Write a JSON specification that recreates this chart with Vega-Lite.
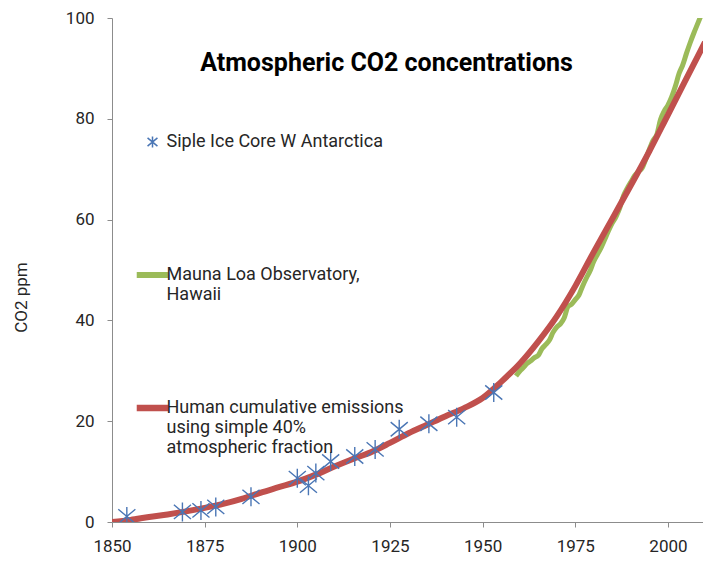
{
  "$schema": "https://vega.github.io/schema/vega-lite/v6.json",
  "width": 593,
  "height": 504,
  "autosize": {"type": "none"},
  "padding": {"left": 112, "top": 18, "right": 0, "bottom": 40},
  "background": "white",
  "title": {
    "text": "Atmospheric CO2 concentrations",
    "font": "Roboto",
    "fontSize": 25,
    "fontWeight": "bold",
    "color": "#000000",
    "anchor": "middle",
    "frame": "group",
    "baseline": "alphabetic",
    "offset": 0,
    "dx": -22,
    "dy": 87
  },
  "data": {
    "values": [
      {"series": "Siple Ice Core W Antarctica", "year": 1854, "value": 1.1},
      {"series": "Siple Ice Core W Antarctica", "year": 1869, "value": 2.0},
      {"series": "Siple Ice Core W Antarctica", "year": 1874, "value": 2.3},
      {"series": "Siple Ice Core W Antarctica", "year": 1878, "value": 3.0},
      {"series": "Siple Ice Core W Antarctica", "year": 1887.5, "value": 5.0},
      {"series": "Siple Ice Core W Antarctica", "year": 1900, "value": 8.7},
      {"series": "Siple Ice Core W Antarctica", "year": 1903, "value": 7.2},
      {"series": "Siple Ice Core W Antarctica", "year": 1905, "value": 9.7},
      {"series": "Siple Ice Core W Antarctica", "year": 1909, "value": 12.0},
      {"series": "Siple Ice Core W Antarctica", "year": 1915.5, "value": 13.0},
      {"series": "Siple Ice Core W Antarctica", "year": 1921, "value": 14.4},
      {"series": "Siple Ice Core W Antarctica", "year": 1927.5, "value": 18.4},
      {"series": "Siple Ice Core W Antarctica", "year": 1935.5, "value": 19.5},
      {"series": "Siple Ice Core W Antarctica", "year": 1943, "value": 20.8},
      {"series": "Siple Ice Core W Antarctica", "year": 1953, "value": 25.7},
      {"series": "Mauna Loa Observatory, Hawaii", "year": 1959, "value": 28.98},
      {"series": "Mauna Loa Observatory, Hawaii", "year": 1960, "value": 29.91},
      {"series": "Mauna Loa Observatory, Hawaii", "year": 1961, "value": 30.64},
      {"series": "Mauna Loa Observatory, Hawaii", "year": 1962, "value": 31.45},
      {"series": "Mauna Loa Observatory, Hawaii", "year": 1963, "value": 31.99},
      {"series": "Mauna Loa Observatory, Hawaii", "year": 1964, "value": 32.62},
      {"series": "Mauna Loa Observatory, Hawaii", "year": 1965, "value": 33.04},
      {"series": "Mauna Loa Observatory, Hawaii", "year": 1966, "value": 34.37},
      {"series": "Mauna Loa Observatory, Hawaii", "year": 1967, "value": 35.18},
      {"series": "Mauna Loa Observatory, Hawaii", "year": 1968, "value": 36.05},
      {"series": "Mauna Loa Observatory, Hawaii", "year": 1969, "value": 37.62},
      {"series": "Mauna Loa Observatory, Hawaii", "year": 1970, "value": 38.68},
      {"series": "Mauna Loa Observatory, Hawaii", "year": 1971, "value": 39.32},
      {"series": "Mauna Loa Observatory, Hawaii", "year": 1972, "value": 40.46},
      {"series": "Mauna Loa Observatory, Hawaii", "year": 1973, "value": 42.68},
      {"series": "Mauna Loa Observatory, Hawaii", "year": 1974, "value": 43.19},
      {"series": "Mauna Loa Observatory, Hawaii", "year": 1975, "value": 44.12},
      {"series": "Mauna Loa Observatory, Hawaii", "year": 1976, "value": 45.03},
      {"series": "Mauna Loa Observatory, Hawaii", "year": 1977, "value": 46.84},
      {"series": "Mauna Loa Observatory, Hawaii", "year": 1978, "value": 48.41},
      {"series": "Mauna Loa Observatory, Hawaii", "year": 1979, "value": 49.84},
      {"series": "Mauna Loa Observatory, Hawaii", "year": 1980, "value": 51.76},
      {"series": "Mauna Loa Observatory, Hawaii", "year": 1981, "value": 53.12},
      {"series": "Mauna Loa Observatory, Hawaii", "year": 1982, "value": 54.48},
      {"series": "Mauna Loa Observatory, Hawaii", "year": 1983, "value": 56.15},
      {"series": "Mauna Loa Observatory, Hawaii", "year": 1984, "value": 57.85},
      {"series": "Mauna Loa Observatory, Hawaii", "year": 1985, "value": 59.35},
      {"series": "Mauna Loa Observatory, Hawaii", "year": 1986, "value": 60.61},
      {"series": "Mauna Loa Observatory, Hawaii", "year": 1987, "value": 62.31},
      {"series": "Mauna Loa Observatory, Hawaii", "year": 1988, "value": 64.69},
      {"series": "Mauna Loa Observatory, Hawaii", "year": 1989, "value": 66.20},
      {"series": "Mauna Loa Observatory, Hawaii", "year": 1990, "value": 67.45},
      {"series": "Mauna Loa Observatory, Hawaii", "year": 1991, "value": 68.70},
      {"series": "Mauna Loa Observatory, Hawaii", "year": 1992, "value": 69.54},
      {"series": "Mauna Loa Observatory, Hawaii", "year": 1993, "value": 70.21},
      {"series": "Mauna Loa Observatory, Hawaii", "year": 1994, "value": 71.96},
      {"series": "Mauna Loa Observatory, Hawaii", "year": 1995, "value": 73.97},
      {"series": "Mauna Loa Observatory, Hawaii", "year": 1996, "value": 75.74},
      {"series": "Mauna Loa Observatory, Hawaii", "year": 1997, "value": 76.88},
      {"series": "Mauna Loa Observatory, Hawaii", "year": 1998, "value": 79.84},
      {"series": "Mauna Loa Observatory, Hawaii", "year": 1999, "value": 81.54},
      {"series": "Mauna Loa Observatory, Hawaii", "year": 2000, "value": 82.71},
      {"series": "Mauna Loa Observatory, Hawaii", "year": 2001, "value": 84.32},
      {"series": "Mauna Loa Observatory, Hawaii", "year": 2002, "value": 86.45},
      {"series": "Mauna Loa Observatory, Hawaii", "year": 2003, "value": 88.98},
      {"series": "Mauna Loa Observatory, Hawaii", "year": 2004, "value": 90.70},
      {"series": "Mauna Loa Observatory, Hawaii", "year": 2005, "value": 92.98},
      {"series": "Mauna Loa Observatory, Hawaii", "year": 2006, "value": 95.09},
      {"series": "Mauna Loa Observatory, Hawaii", "year": 2007, "value": 97.02},
      {"series": "Mauna Loa Observatory, Hawaii", "year": 2008, "value": 98.83},
      {"series": "Mauna Loa Observatory, Hawaii", "year": 2009, "value": 100.64},
      {"series": "Human cumulative emissions using simple 40% atmospheric fraction", "year": 1850, "value": 0},
      {"series": "Human cumulative emissions using simple 40% atmospheric fraction", "year": 1855, "value": 0.4},
      {"series": "Human cumulative emissions using simple 40% atmospheric fraction", "year": 1860, "value": 1.0},
      {"series": "Human cumulative emissions using simple 40% atmospheric fraction", "year": 1865, "value": 1.5},
      {"series": "Human cumulative emissions using simple 40% atmospheric fraction", "year": 1870, "value": 2.1},
      {"series": "Human cumulative emissions using simple 40% atmospheric fraction", "year": 1875, "value": 2.8},
      {"series": "Human cumulative emissions using simple 40% atmospheric fraction", "year": 1880, "value": 3.6},
      {"series": "Human cumulative emissions using simple 40% atmospheric fraction", "year": 1885, "value": 4.6},
      {"series": "Human cumulative emissions using simple 40% atmospheric fraction", "year": 1890, "value": 5.8},
      {"series": "Human cumulative emissions using simple 40% atmospheric fraction", "year": 1895, "value": 6.9},
      {"series": "Human cumulative emissions using simple 40% atmospheric fraction", "year": 1900, "value": 8.0},
      {"series": "Human cumulative emissions using simple 40% atmospheric fraction", "year": 1905, "value": 9.4},
      {"series": "Human cumulative emissions using simple 40% atmospheric fraction", "year": 1910, "value": 11.0},
      {"series": "Human cumulative emissions using simple 40% atmospheric fraction", "year": 1915, "value": 12.5},
      {"series": "Human cumulative emissions using simple 40% atmospheric fraction", "year": 1920, "value": 13.9},
      {"series": "Human cumulative emissions using simple 40% atmospheric fraction", "year": 1925, "value": 15.7},
      {"series": "Human cumulative emissions using simple 40% atmospheric fraction", "year": 1930, "value": 17.6},
      {"series": "Human cumulative emissions using simple 40% atmospheric fraction", "year": 1935, "value": 19.3},
      {"series": "Human cumulative emissions using simple 40% atmospheric fraction", "year": 1940, "value": 21.0},
      {"series": "Human cumulative emissions using simple 40% atmospheric fraction", "year": 1945, "value": 22.6},
      {"series": "Human cumulative emissions using simple 40% atmospheric fraction", "year": 1950, "value": 24.6},
      {"series": "Human cumulative emissions using simple 40% atmospheric fraction", "year": 1955, "value": 27.8},
      {"series": "Human cumulative emissions using simple 40% atmospheric fraction", "year": 1960, "value": 31.4},
      {"series": "Human cumulative emissions using simple 40% atmospheric fraction", "year": 1965, "value": 35.8},
      {"series": "Human cumulative emissions using simple 40% atmospheric fraction", "year": 1970, "value": 40.8},
      {"series": "Human cumulative emissions using simple 40% atmospheric fraction", "year": 1975, "value": 46.8},
      {"series": "Human cumulative emissions using simple 40% atmospheric fraction", "year": 1980, "value": 53.6},
      {"series": "Human cumulative emissions using simple 40% atmospheric fraction", "year": 1985, "value": 60.2},
      {"series": "Human cumulative emissions using simple 40% atmospheric fraction", "year": 1990, "value": 66.8},
      {"series": "Human cumulative emissions using simple 40% atmospheric fraction", "year": 1995, "value": 73.6},
      {"series": "Human cumulative emissions using simple 40% atmospheric fraction", "year": 2000, "value": 80.8},
      {"series": "Human cumulative emissions using simple 40% atmospheric fraction", "year": 2005, "value": 88.0},
      {"series": "Human cumulative emissions using simple 40% atmospheric fraction", "year": 2010, "value": 95.2}
    ]
  },
  "encoding": {
    "x": {
      "field": "year",
      "type": "quantitative",
      "scale": {"domain": [1850, 2010], "nice": false, "zero": false},
      "axis": {
        "title": null,
        "values": [1850, 1875, 1900, 1925, 1950, 1975, 2000],
        "format": "d",
        "grid": false,
        "domainColor": "#8c8c8c",
        "tickColor": "#8c8c8c",
        "tickSize": 5,
        "labelFont": "Roboto",
        "labelFontSize": 17,
        "labelColor": "#262626",
        "labelPadding": 11,
        "labelFlush": false,
        "labelOverlap": false
      }
    },
    "y": {
      "field": "value",
      "type": "quantitative",
      "scale": {"domain": [0, 100], "nice": false},
      "axis": {
        "title": "CO2 ppm",
        "values": [0, 20, 40, 60, 80, 100],
        "grid": false,
        "domainColor": "#8c8c8c",
        "tickColor": "#8c8c8c",
        "tickSize": 5,
        "labelFont": "Roboto",
        "labelFontSize": 17,
        "labelColor": "#262626",
        "labelPadding": 13,
        "titleFont": "Roboto",
        "titleFontSize": 17,
        "titleFontWeight": "normal",
        "titleColor": "#262626",
        "titleAngle": -90,
        "titleAlign": "center",
        "titleBaseline": "middle",
        "titleX": -91,
        "titleY": 279
      }
    },
    "color": {
      "field": "series",
      "type": "nominal",
      "scale": {
        "domain": ["Siple Ice Core W Antarctica", "Mauna Loa Observatory, Hawaii", "Human cumulative emissions using simple 40% atmospheric fraction"],
        "range": ["#4A76B5", "#9BBB59", "#C0504D"]
      },
      "legend": {
        "title": null,
        "orient": "none",
        "legendX": 31.5,
        "legendY": 115,
        "padding": 0,
        "direction": "vertical",
        "symbolSize": 121,
        "symbolStrokeWidth": 1.5,
        "labelOffset": 5,
        "labelFont": "Roboto",
        "labelFontSize": 18,
        "labelColor": "#262626",
        "labelLimit": 400,
        "labelBaseline": "middle",
        "rowPadding": 75,
        "labelExpr": "datum.label == 'Siple Ice Core W Antarctica' ? ['Siple Ice Core W Antarctica', '', ''] : datum.label == 'Mauna Loa Observatory, Hawaii' ? ['Mauna Loa Observatory,', 'Hawaii', ''] : ['Human cumulative emissions', 'using simple 40%', 'atmospheric fraction']"
      }
    }
  },
  "layer": [
    {
      "transform": [{"filter": "datum.series === 'Mauna Loa Observatory, Hawaii'"}],
      "mark": {"type": "line", "strokeWidth": 5, "clip": true, "interpolate": "monotone"}
    },
    {
      "transform": [{"filter": "datum.series === 'Human cumulative emissions using simple 40% atmospheric fraction'"}],
      "mark": {"type": "line", "strokeWidth": 6, "clip": true, "interpolate": "monotone"}
    },
    {
      "transform": [{"filter": "datum.series === 'Siple Ice Core W Antarctica'"}],
      "mark": {
        "type": "point",
        "size": 361,
        "filled": true,
        "strokeWidth": 1.4,
        "opacity": 1,
        "clip": true
      },
      "encoding": {
        "shape": {
          "field": "series",
          "type": "nominal",
          "scale": {
            "domain": ["Siple Ice Core W Antarctica", "Mauna Loa Observatory, Hawaii", "Human cumulative emissions using simple 40% atmospheric fraction"],
            "range": ["M0,-1L0,1M-0.9,-0.75L0.9,0.75M-0.9,0.75L0.9,-0.75", "M-2.73,-0.4L2.73,-0.4L2.73,0.4L-2.73,0.4Z", "M-2.73,-0.45L2.73,-0.45L2.73,0.45L-2.73,0.45Z"]
          }
        },
        "stroke": {
          "field": "series",
          "type": "nominal",
          "scale": {
            "domain": ["Siple Ice Core W Antarctica", "Mauna Loa Observatory, Hawaii", "Human cumulative emissions using simple 40% atmospheric fraction"],
            "range": ["#4A76B5", "#9BBB59", "#C0504D"]
          }
        }
      }
    }
  ],
  "config": {
    "view": {"stroke": null},
    "font": "Roboto"
  }
}
